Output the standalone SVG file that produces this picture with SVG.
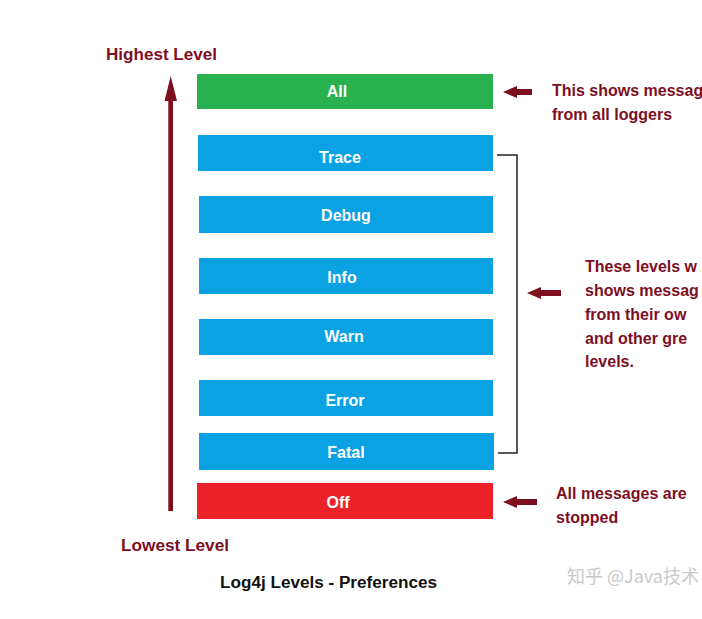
<svg xmlns="http://www.w3.org/2000/svg" width="702" height="619" viewBox="0 0 702 619">
<style>
.lvl{font-family:"Liberation Sans",Arial,sans-serif;font-weight:bold;font-size:16px;fill:#ffffff;text-anchor:middle}
.note{font-family:"Liberation Sans",Arial,sans-serif;font-weight:bold;font-size:16px;fill:#7d0f1f}
.cap{font-family:"Liberation Sans",Arial,sans-serif;font-weight:bold;font-size:16px;fill:#111111}
.wm{font-family:"Noto Sans CJK SC","Liberation Sans",sans-serif;font-size:18px;fill:#c9c9c9}
.blue{fill:#0aa2e3}
.arr{fill:#7d0f1f}
</style>
<rect width="702" height="619" fill="#ffffff"/>
<g id="labels">
<text class="note" x="106" y="60" textLength="111" lengthAdjust="spacingAndGlyphs">Highest Level</text>
<text class="note" x="121" y="551" textLength="108" lengthAdjust="spacingAndGlyphs">Lowest Level</text>
<text class="cap" x="220" y="588" textLength="217" lengthAdjust="spacingAndGlyphs">Log4j Levels - Preferences</text>
<text class="wm" x="567" y="583">知乎 @Java技术</text>
</g>
<g id="node-all"><rect x="197" y="74" width="296" height="35" fill="#28b14e"/><text class="lvl" x="337" y="97">All</text></g>
<g id="node-trace"><rect class="blue" x="198" y="135" width="295" height="36"/><text class="lvl" x="340" y="163">Trace</text></g>
<g id="node-debug"><rect class="blue" x="199" y="196" width="294" height="37"/><text class="lvl" x="346" y="221">Debug</text></g>
<g id="node-info"><rect class="blue" x="199" y="258" width="294" height="36"/><text class="lvl" x="342" y="283">Info</text></g>
<g id="node-warn"><rect class="blue" x="199" y="319" width="294" height="36"/><text class="lvl" x="344" y="342">Warn</text></g>
<g id="node-error"><rect class="blue" x="199" y="380" width="294" height="36"/><text class="lvl" x="345" y="406">Error</text></g>
<g id="node-fatal"><rect class="blue" x="199" y="433" width="295" height="37"/><text class="lvl" x="346" y="458">Fatal</text></g>
<g id="node-off"><rect x="197" y="483" width="296" height="36" fill="#ec2228"/><text class="lvl" x="338" y="508">Off</text></g>
<g id="note-all"><text class="note" x="552" y="96">This shows messag</text><text class="note" x="552" y="120">from all loggers</text></g>
<g id="note-levels"><text class="note" x="585" y="272">These levels w</text><text class="note" x="585" y="296">shows messag</text><text class="note" x="585" y="320">from their ow</text><text class="note" x="585" y="344">and other gre</text><text class="note" x="585" y="367">levels.</text></g>
<g id="note-off"><text class="note" x="556" y="499">All messages are</text><text class="note" x="556" y="523">stopped</text></g>
<g id="connectors">
<polygon class="arr" points="168.3,511 173,511 173,101 177,101 170.7,76 164.5,101 168.3,101"/>
<path d="M497 155 H517 V453 H498" fill="none" stroke="#222" stroke-width="1.5"/>
<polygon class="arr" points="503,92 517,86 517,89 532,89 532,95 517,95 517,98"/>
<polygon class="arr" points="527,293 541,287 541,290 561,290 561,296 541,296 541,299"/>
<polygon class="arr" points="503,502 517,496 517,499 537,499 537,505 517,505 517,508"/>
</g>
</svg>
